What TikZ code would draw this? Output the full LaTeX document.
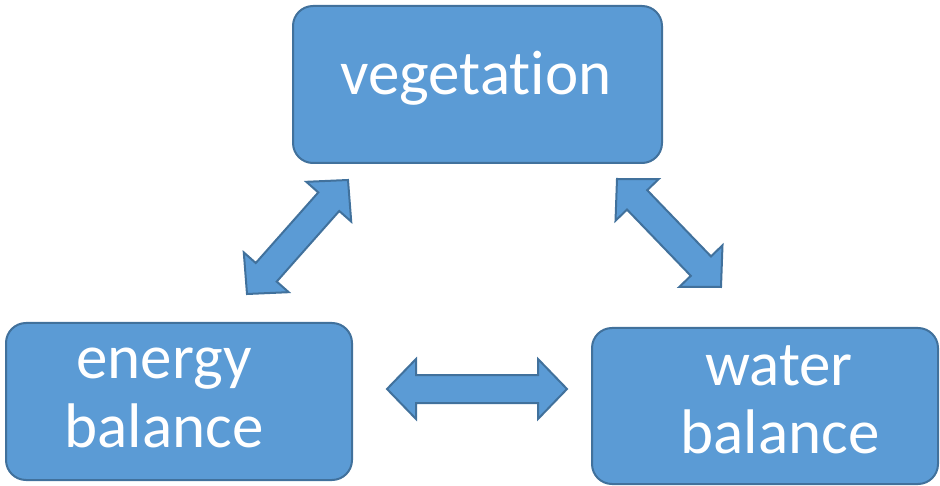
\documentclass[tikz,border=0pt]{standalone}
\usepackage{fontspec}
\setmainfont[Ligatures={NoCommon}]{Carlito}
\usetikzlibrary{calc}
\definecolor{boxfill}{HTML}{5B9BD5}
\definecolor{boxline}{HTML}{41719C}
\tikzset{
  box/.style={draw=boxline, fill=boxfill, line width=2pt, rounded corners=20pt, inner sep=0pt},
  lbl/.style={text=white, anchor=base, inner sep=0pt, font=\fontsize{63}{70}\selectfont},
  blockarrow/.style={draw=boxline, fill=boxfill, line width=2pt, line join=miter}
}
\newcommand\dblarrow[2]{%
  \path[blockarrow] (#1)
   -- ($(#1)!29pt!(#2)!30pt!90:(#2)$)
   -- ($(#1)!29pt!(#2)!14pt!90:(#2)$)
   -- ($(#2)!29pt!(#1)!14pt!-90:(#1)$)
   -- ($(#2)!29pt!(#1)!30pt!-90:(#1)$)
   -- (#2)
   -- ($(#2)!29pt!(#1)!30pt!90:(#1)$)
   -- ($(#2)!29pt!(#1)!14pt!90:(#1)$)
   -- ($(#1)!29pt!(#2)!14pt!-90:(#2)$)
   -- ($(#1)!29pt!(#2)!30pt!-90:(#2)$)
   -- cycle;}
\begin{document}
\begin{tikzpicture}[x=1pt,y=-1pt]
\useasboundingbox (0,0) rectangle (940,486);
% boxes
\node[box, minimum width=369pt, minimum height=157pt] (veg) at (477.5,84.5) {};
\node[box, minimum width=346pt, minimum height=157pt] (energy) at (179,401.5) {};
\node[box, minimum width=346pt, minimum height=156pt] (water) at (765,406) {};
% labels
\node[lbl] (tveg) at (476,95) {vegetation};
\node[lbl] (ten1) at (164,378) {energy};
\node[lbl] (ten2) at (164,447) {balance};
\node[lbl] (twa1) at (779,385) {water};
\node[lbl] (twa2) at (780,453) {balance};
% arrow tips
\coordinate (l1) at (247,294);
\coordinate (l2) at (348,180);
\coordinate (r1) at (617,179);
\coordinate (r2) at (721,287);
\coordinate (h1) at (387,389);
\coordinate (h2) at (567,389);
\dblarrow{l1}{l2}
\dblarrow{r1}{r2}
\dblarrow{h1}{h2}
\end{tikzpicture}
\end{document}
